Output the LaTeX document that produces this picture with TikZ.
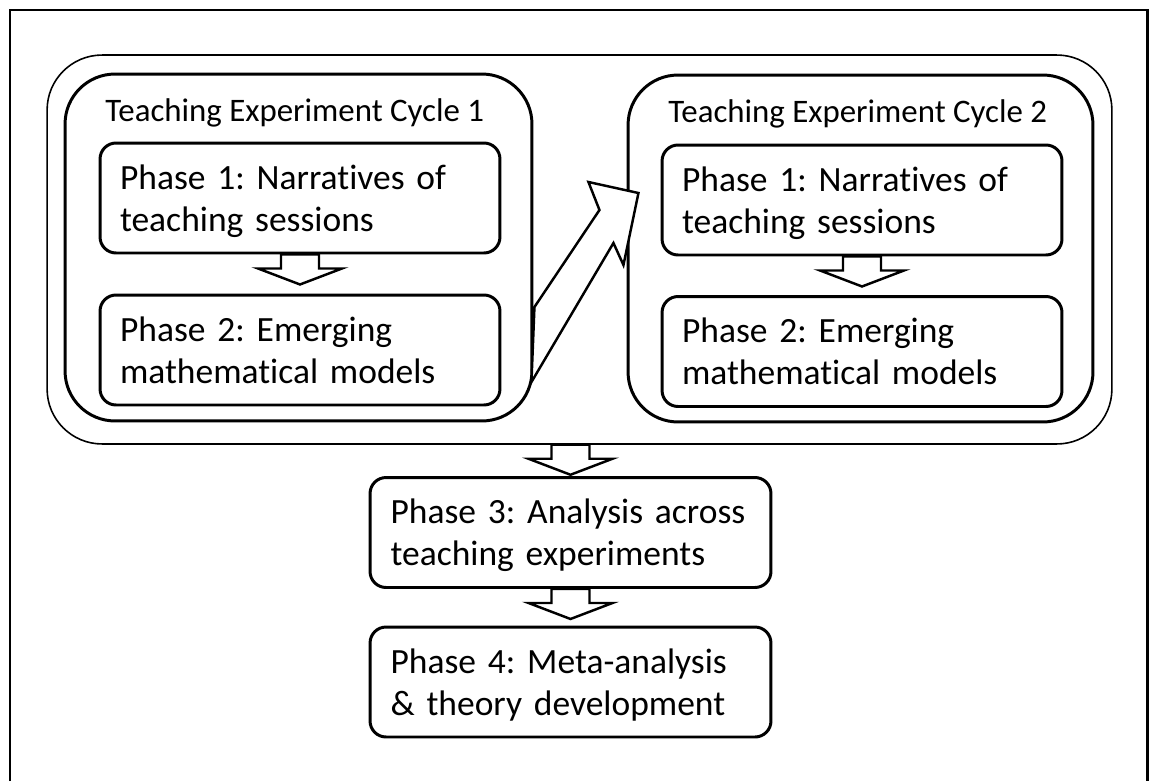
\documentclass[tikz,border=0pt]{standalone}
\usepackage{fontspec}
\setmainfont{Carlito}[Ligatures={NoCommon}]
\frenchspacing

\begin{document}
\begin{tikzpicture}[x=0.02cm, y=-0.02cm,
	phase/.style = {draw, line width=1.7pt, rounded corners=0.32cm, minimum width=8cm, minimum height=2.2cm,
		text width=7.2cm, inner xsep=0.4cm, align=left, font=\fontsize{20.2}{23.9}\selectfont,
		execute at begin node={\rule{0pt}{0.95em}}, execute at end node={\rule[-0.25em]{0pt}{0.25em}}},
	cycle/.style = {draw, line width=1.7pt, rounded corners=1cm},
	title/.style = {anchor=base west, inner sep=0pt, font=\fontsize{18.7}{20}\selectfont},
	blockarrow/.style = {draw, fill=white, line width=1.4pt, line join=miter}]
	\useasboundingbox (0,0) rectangle (1151,781);
	\draw[line width=1.7pt] (10,781) -- (10,10) -- (1147,10) -- (1147,781);
	% the two cycles
	\node[cycle, line width=0.9pt, rounded corners=1.1cm, minimum width=21.3cm, minimum height=7.78cm] (outer) at (579.5,249.5) {};
	\node[cycle, minimum width=9.34cm, minimum height=6.94cm] (cycle1) at (298.5,247.5) {};
	\node[cycle, minimum width=9.3cm, minimum height=6.94cm] (cycle2) at (860.5,248.5) {};
	\node[title] (title1) at (105,121) {Teaching Experiment Cycle 1};
	\node[title] (title2) at (668,122) {Teaching Experiment Cycle 2};
	\node[phase] (p1a) at (300,198) {Phase 1: Narratives of\\teaching sessions};
	\node[phase] (p2a) at (300,350) {Phase 2: Emerging\\mathematical models};
	\node[phase] (p1b) at (862,200) {Phase 1: Narratives of\\teaching sessions};
	\node[phase] (p2b) at (862,351.5) {Phase 2: Emerging\\mathematical models};
	% after the cycles
	\node[phase, minimum width=8.02cm] (p3) at (570.5,532.5) {Phase 3: Analysis across\\teaching experiments};
	\node[phase, minimum width=8.02cm] (p4) at (570.5,682) {Phase 4: Meta-analysis\\\& theory development};
	\foreach \a/\b in {p1a/p2a, p1b/p2b, outer/p3, p3/p4}
		\draw[blockarrow] (\b.north |- \a.south) ++(-19,0) -- ++(0,14) -- ++(-23,0) -- ++(42,16)
			-- ++(42,-16) -- ++(-23,0) -- ++(0,-14) -- cycle;
	\draw[blockarrow] (cycle1.east) ++(1,59.5) -- ++(65,-97) -- ++(-11,-28) -- ++(50,11)
		-- ++(-15,72) -- ++(-10,-22) -- ++(-82,139) -- cycle;
\end{tikzpicture}
\end{document}
